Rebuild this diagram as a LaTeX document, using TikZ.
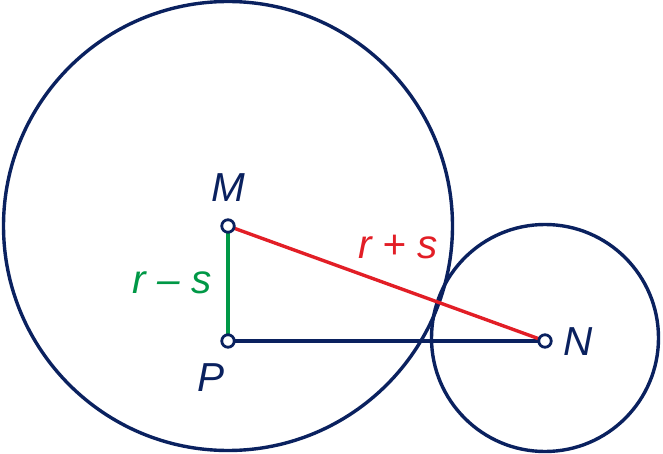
\documentclass[tikz,border=0pt]{standalone}
\usepackage{fontspec}
\setmainfont{Liberation Sans}
\definecolor{navy}{RGB}{10,33,95}
\definecolor{myred}{RGB}{226,30,38}
\definecolor{mygreen}{RGB}{0,152,70}
\begin{document}
\begin{tikzpicture}[x=1pt,y=-1pt,
  circ/.style={draw=navy,line width=3.4pt},
  seg/.style={line width=3.4pt},
  pt/.style={circle,draw=navy,fill=white,line width=2.8pt,minimum size=12.5pt,inner sep=0pt},
  lab/.style={font=\fontsize{40.5}{42}\selectfont\itshape,inner sep=0pt}]
\useasboundingbox (0,0) rectangle (663,454);
\draw[circ] (228,226) circle (224.5);
\draw[circ] (545,338) circle (113.5);
\coordinate (m) at (228,226);
\coordinate (p) at (228,341);
\coordinate (n) at (545,341);
\draw[seg,mygreen] (m) -- (p);
\draw[seg,navy] (p) -- (n);
\draw[seg,myred] (m) -- (n);
\node[pt] (M) at (m) {};
\node[pt] (P) at (p) {};
\node[pt] (N) at (n) {};
\node[lab,text=navy] (lM) at (228,188) {M};
\node[lab,text=navy] (lP) at (211,378) {P};
\node[lab,text=navy] (lN) at (578,342) {N};
\node[lab,text=myred] (lrs) at (398,247) {r + s};
\node[lab,text=mygreen] (lrm) at (172,283) {r – s};
\end{tikzpicture}
\end{document}
